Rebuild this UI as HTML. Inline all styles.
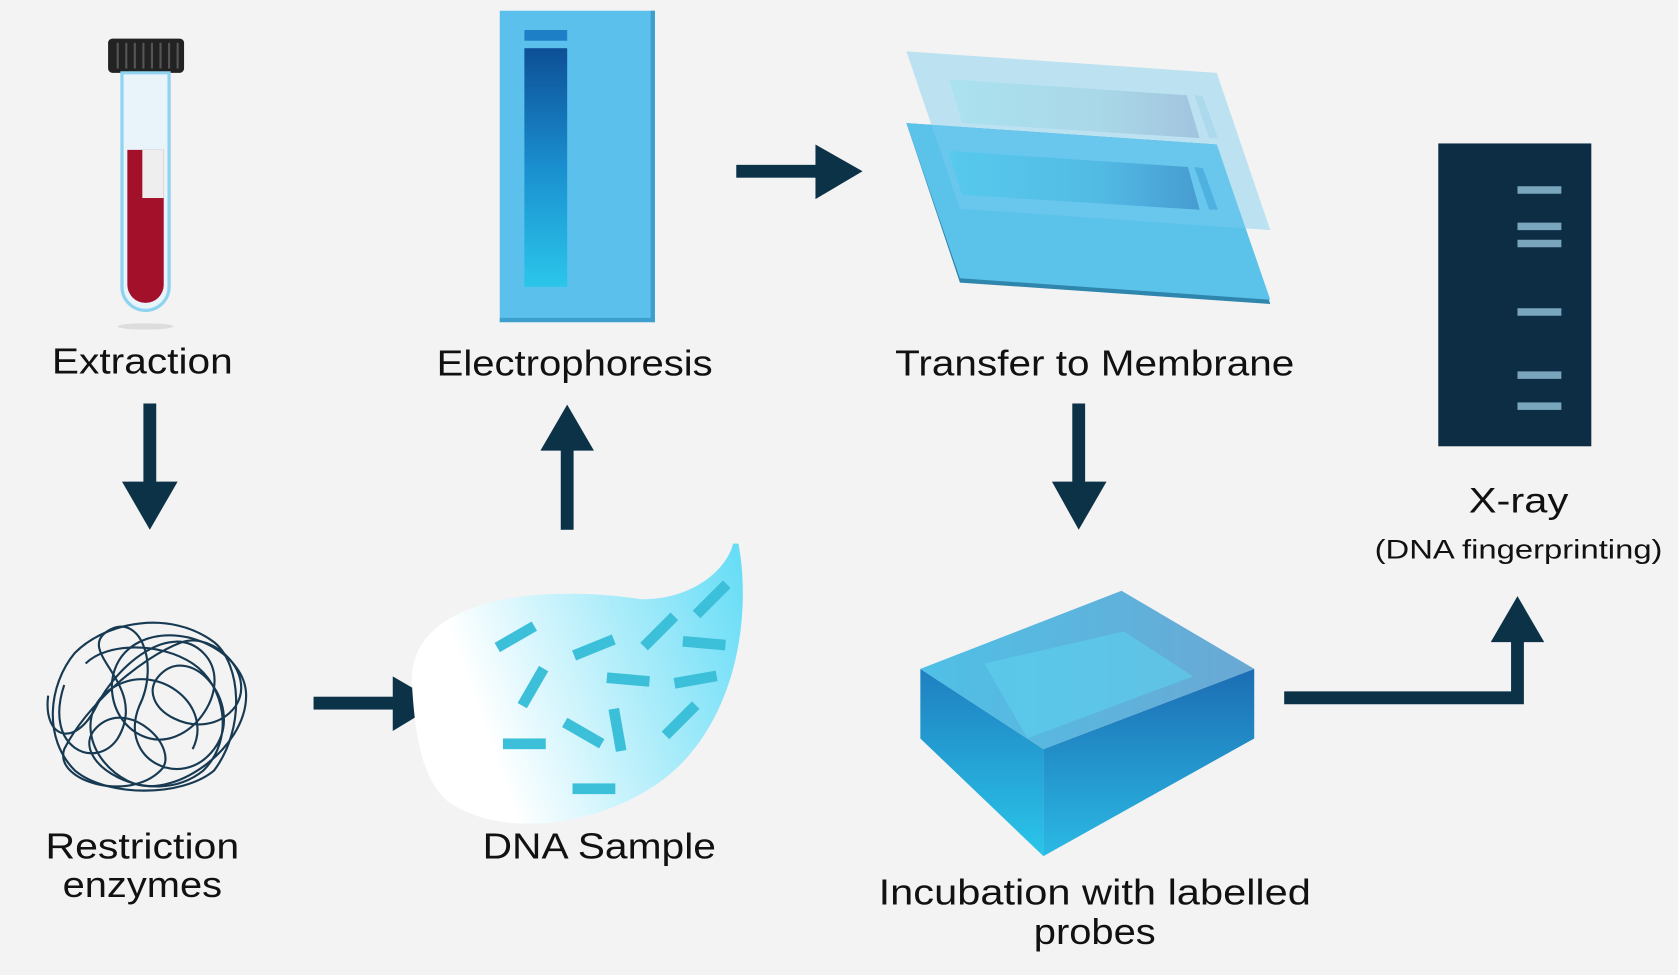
<!DOCTYPE html>
<html><head><meta charset="utf-8"><style>
html,body{margin:0;padding:0;background:#f3f3f3;}
svg{display:block}
text{font-family:"Liberation Sans",sans-serif;fill:#111;text-anchor:middle}
</style></head><body>
<svg width="1678" height="975" viewBox="0 0 1568 911" xmlns="http://www.w3.org/2000/svg">
<defs>
<linearGradient id="gel" x1="0" y1="0" x2="0" y2="1"><stop offset="0" stop-color="#0d4f96"/><stop offset="0.5" stop-color="#1a8fcf"/><stop offset="1" stop-color="#2bc6ea"/></linearGradient>
<linearGradient id="strip" x1="0" y1="0" x2="1" y2="0"><stop offset="0" stop-color="#3cc6ea"/><stop offset="0.6" stop-color="#32abd9"/><stop offset="1" stop-color="#1e72b6"/></linearGradient>
<linearGradient id="strip2" x1="0" y1="0" x2="1" y2="0"><stop offset="0" stop-color="#a8e2f0"/><stop offset="0.6" stop-color="#a6d6e6"/><stop offset="1" stop-color="#9dbfdb"/></linearGradient>
<linearGradient id="blob" x1="0" y1="0.3" x2="1" y2="0"><stop offset="0.1" stop-color="#ffffff"/><stop offset="1" stop-color="#63dcf6"/></linearGradient>
<linearGradient id="boxtop" x1="0" y1="0" x2="1" y2="0"><stop offset="0" stop-color="#4fc0e6"/><stop offset="1" stop-color="#6aa8d4"/></linearGradient>
<linearGradient id="boxl" x1="0" y1="0" x2="0" y2="1"><stop offset="0" stop-color="#1f7fc0"/><stop offset="1" stop-color="#2ac6ea"/></linearGradient>
<linearGradient id="boxr" x1="0" y1="0" x2="0" y2="1"><stop offset="0" stop-color="#1c6db3"/><stop offset="1" stop-color="#2bb9e4"/></linearGradient>
</defs>
<g fill="#0c3248">
<rect x="134" y="377" width="12" height="76"/><polygon points="114,450 166,450 140,495"/>
<rect x="293" y="651" width="76" height="12"/><polygon points="367,632 367,683 410,657"/>
<rect x="524" y="418" width="12" height="77"/><polygon points="505,421 555,421 530,378"/>
<rect x="688" y="154" width="76" height="12"/><polygon points="762,135 762,186 806,160"/>
<rect x="1002" y="377" width="12" height="76"/><polygon points="983,450 1034,450 1008,495"/>
<polyline points="1200,652 1418,652 1418,598" fill="none" stroke="#0c3248" stroke-width="12"/>
<polygon points="1393,600 1443,600 1418,557"/>
</g>
<!-- test tube -->
<rect x="101" y="36" width="71" height="32" rx="4" fill="#222"/>
<g stroke="#555" stroke-width="2"><line x1="110" y1="40" x2="110" y2="64"/><line x1="118" y1="40" x2="118" y2="64"/><line x1="126" y1="40" x2="126" y2="64"/><line x1="134" y1="40" x2="134" y2="64"/><line x1="142" y1="40" x2="142" y2="64"/><line x1="150" y1="40" x2="150" y2="64"/><line x1="158" y1="40" x2="158" y2="64"/><line x1="166" y1="40" x2="166" y2="64"/></g>
<path d="M114,68 V268 a22,22 0 0 0 44,0 V68 Z" fill="#e9f4fa" stroke="#8ed3f0" stroke-width="3"/>
<path d="M119,140 V266 a17,17 0 0 0 34,0 V140 Z" fill="#a3102a"/>
<rect x="133" y="140" width="20" height="45" fill="#eee"/>
<ellipse cx="136" cy="305" rx="26" ry="3" fill="#ddd"/>
<text x="133" y="349" font-size="34" textLength="169" lengthAdjust="spacingAndGlyphs">Extraction</text>
<!-- tangle -->
<g fill="none" stroke="#173a52" stroke-width="2">
<path d="M60,640 C40,700 90,720 110,690 C140,640 70,610 100,590 C130,570 150,620 130,660 C110,710 170,740 200,700 C230,660 180,600 150,630 C120,660 190,700 220,660 C240,630 200,590 170,600 C130,615 80,660 60,700 C50,730 120,750 150,720 C170,700 120,650 90,680 C60,710 140,760 190,720 C220,690 210,640 180,620 C150,600 100,600 80,620"/>
<path d="M45,650 C40,690 70,700 90,660 C110,620 160,580 190,610 C220,640 180,700 140,690 C100,680 90,620 130,600 C170,580 230,610 230,650 C230,700 160,750 120,730 C80,710 70,660 110,640 C150,620 200,660 180,700"/>
<path d="M70,610 C100,580 160,570 200,600 C225,620 230,680 200,720 C170,745 100,745 70,720 C40,690 45,640 70,610 Z"/>
</g>
<text x="133" y="802" font-size="34" textLength="181" lengthAdjust="spacingAndGlyphs">Restriction</text>
<text x="133" y="838" font-size="34" textLength="149" lengthAdjust="spacingAndGlyphs">enzymes</text>
<!-- DNA sample -->
<path d="M385,640 C380,560 500,545 600,560 C650,560 680,530 685,508 L690,508 C700,560 695,650 640,710 C590,765 480,790 420,750 C395,730 388,690 385,640 Z" fill="url(#blob)"/>
<g fill="#3cc0da">
<rect x="462" y="590" width="40" height="10" transform="rotate(-30 482 595)"/>
<rect x="535" y="600" width="40" height="10" transform="rotate(-22 555 605)"/>
<rect x="596" y="585" width="40" height="10" transform="rotate(-45 616 590)"/>
<rect x="645" y="555" width="40" height="10" transform="rotate(-45 665 560)"/>
<rect x="638" y="596" width="40" height="10" transform="rotate(5 658 601)"/>
<rect x="478" y="637" width="40" height="10" transform="rotate(-60 498 642)"/>
<rect x="567" y="630" width="40" height="10" transform="rotate(5 587 635)"/>
<rect x="630" y="630" width="40" height="10" transform="rotate(-10 650 635)"/>
<rect x="525" y="680" width="40" height="10" transform="rotate(30 545 685)"/>
<rect x="557" y="677" width="40" height="10" transform="rotate(80 577 682)"/>
<rect x="616" y="668" width="40" height="10" transform="rotate(-45 636 673)"/>
<rect x="470" y="690" width="40" height="10"/>
<rect x="535" y="732" width="40" height="10"/>
</g>
<text x="560" y="802" font-size="34" textLength="218" lengthAdjust="spacingAndGlyphs">DNA Sample</text>
<!-- electrophoresis -->
<rect x="467" y="10" width="145" height="291" fill="#5bc0eb"/>
<rect x="608" y="10" width="4" height="291" fill="#3d9fcb"/><rect x="467" y="297" width="145" height="4" fill="#3d9fcb"/>
<rect x="490" y="28" width="40" height="10" fill="#1d7fc6"/>
<rect x="490" y="45" width="40" height="223" fill="url(#gel)"/>
<text x="537" y="351" font-size="34" textLength="258" lengthAdjust="spacingAndGlyphs">Electrophoresis</text>
<!-- transfer -->
<polygon points="847,115 1137,135 1187,284 897,264" fill="#2e86ac"/>
<polygon points="847,115 1137,135 1187,280 897,260" fill="#5bc2ea"/>
<polygon points="886,141 1110,156 1121,196 899,182" fill="url(#strip)"/>
<polygon points="1116,156 1124,157 1138,196 1130,196" fill="#2a9ad0"/>
<polygon points="847,48 1137,68 1187,215 897,195" fill="#7bcff1" opacity="0.45"/>
<polygon points="887,74 1109,89 1121,129 899,115" fill="url(#strip2)" opacity="0.85"/>
<polygon points="1116,89 1124,90 1138,129 1130,129" fill="#a8d8ea" opacity="0.8"/>
<text x="1023" y="351" font-size="34" textLength="373" lengthAdjust="spacingAndGlyphs">Transfer to Membrane</text>
<!-- box -->
<polygon points="860,625 975,700 975,800 860,690" fill="url(#boxl)"/>
<polygon points="975,700 1172,625 1172,690 975,800" fill="url(#boxr)"/>
<polygon points="860,625 1048,552 1172,625 975,700" fill="url(#boxtop)"/>
<polygon points="920,620 1050,590 1115,632 960,690" fill="#5dd0ef" opacity="0.6"/>
<text x="1023" y="845" font-size="34" textLength="404" lengthAdjust="spacingAndGlyphs">Incubation with labelled</text>
<text x="1023" y="882" font-size="34" textLength="114" lengthAdjust="spacingAndGlyphs">probes</text>
<!-- xray -->
<rect x="1344" y="134" width="143" height="283" fill="#0c2d44"/>
<g fill="#7aa6bd"><rect x="1418" y="174" width="41" height="7"/><rect x="1418" y="208" width="41" height="7"/><rect x="1418" y="224" width="41" height="7"/><rect x="1418" y="288" width="41" height="7"/><rect x="1418" y="347" width="41" height="7"/><rect x="1418" y="376" width="41" height="7"/></g>
<text x="1419" y="479" font-size="33" textLength="93" lengthAdjust="spacingAndGlyphs">X-ray</text>
<text x="1419" y="522" font-size="25" textLength="269" lengthAdjust="spacingAndGlyphs">(DNA fingerprinting)</text>
</svg>
</body></html>
